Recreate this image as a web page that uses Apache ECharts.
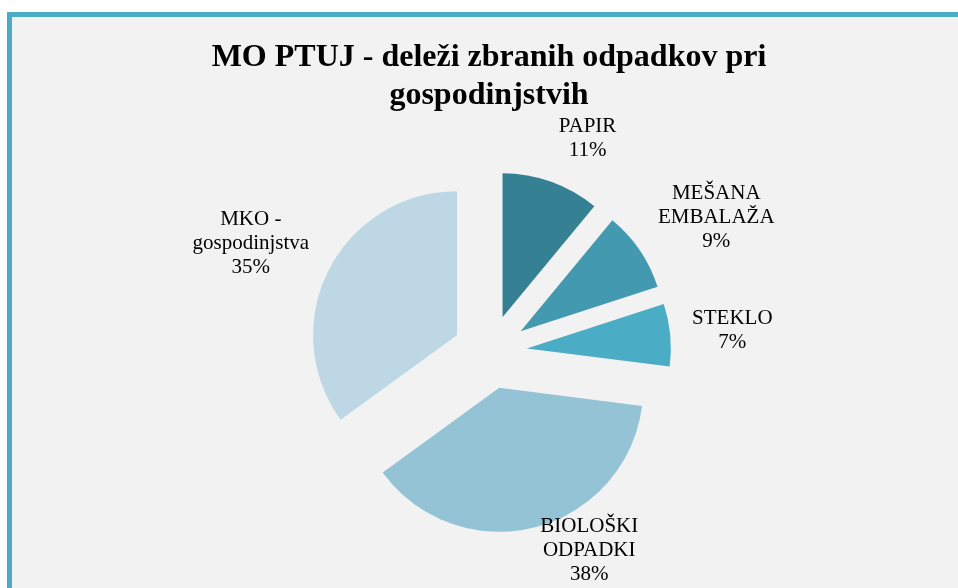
<!DOCTYPE html>
<html>
<head>
<meta charset="utf-8">
<title>MO PTUJ - deleži zbranih odpadkov</title>
<script src="https://cdn.jsdelivr.net/npm/echarts@6/dist/echarts.min.js"></script>
<style>
html, body { margin: 0; padding: 0; background: #fff; overflow: hidden; }
#frame {
  position: absolute; left: 7px; top: 12px; width: 1000px; height: 700px;
  background: #f2f2f2; border-top: 5px solid #4bacc6; border-left: 5px solid #4bacc6;
}
#main { position: absolute; left: 0; top: 0; width: 958px; height: 588px; }
</style>
</head>
<body>
<div id="frame"></div>
<div id="main"></div>
<script>
// deleži v %
var categories = ['PAPIR', 'MEŠANA\nEMBALAŽA', 'STEKLO', 'BIOLOŠKI\nODPADKI', 'MKO -\ngospodinjstva'];
var shares = [11, 9, 7, 38, 35];
var sliceColors = ['#368094', '#4399b0', '#4bacc6', '#93c3d5', '#bdd8e4'];

var pieCenter = [490, 352];
var serif = 'Liberation Serif, Times New Roman, serif';

var pieData = categories.map(function (name, i) {
  return { name: name, value: shares[i], selected: true, itemStyle: { color: sliceColors[i] } };
});
var labelData = categories.map(function (name, i) {
  return { name: name, value: shares[i] };
});

var myChart = echarts.init(document.getElementById('main'), null, { renderer: 'canvas' });

myChart.setOption({
  animation: false,
  backgroundColor: 'transparent',
  title: {
    text: 'MO PTUJ - deleži zbranih odpadkov pri\ngospodinjstvih',
    left: 484,
    top: 34,
    textAlign: 'center',
    textStyle: { fontFamily: serif, fontSize: 32, fontWeight: 'bold', lineHeight: 38, color: '#000' }
  },
  series: [
    {
      type: 'pie',
      center: pieCenter,
      radius: 144,
      startAngle: 90,
      clockwise: true,
      selectedMode: 'multiple',
      selectedOffset: 37,
      label: { show: false },
      labelLine: { show: false },
      emphasis: { disabled: true },
      data: pieData
    },
    {
      // samo oznake, sektorji so prozorni
      type: 'pie',
      center: pieCenter,
      radius: [190, 210],
      startAngle: 90,
      clockwise: true,
      silent: true,
      itemStyle: { color: 'rgba(0,0,0,0)' },
      emphasis: { disabled: true },
      label: {
        show: true,
        position: 'inside',
        formatter: '{b}\n{d}%',
        fontFamily: serif,
        fontSize: 21,
        lineHeight: 24,
        color: '#000'
      },
      labelLine: { show: false },
      labelLayout: function (params) {
        // oznako odmakni od roba, da se ga dotika z bližnjim robom
        var r = params.labelRect;
        var cx = r.x + r.width / 2, cy = r.y + r.height / 2;
        var vx = cx - pieCenter[0], vy = cy - pieCenter[1];
        var len = Math.sqrt(vx * vx + vy * vy) || 1;
        var clamp = function (v) { return Math.max(-1, Math.min(1, v)); };
        var x = cx + clamp(4 * vx / len) * r.width / 2;
        var y = cy + clamp(vy / len) * r.height / 2;
        y = Math.min(y, 586 - r.height / 2);
        return { x: x, y: y, align: 'center', verticalAlign: 'middle' };
      },
      data: labelData
    }
  ]
});
</script>
</body>
</html>
